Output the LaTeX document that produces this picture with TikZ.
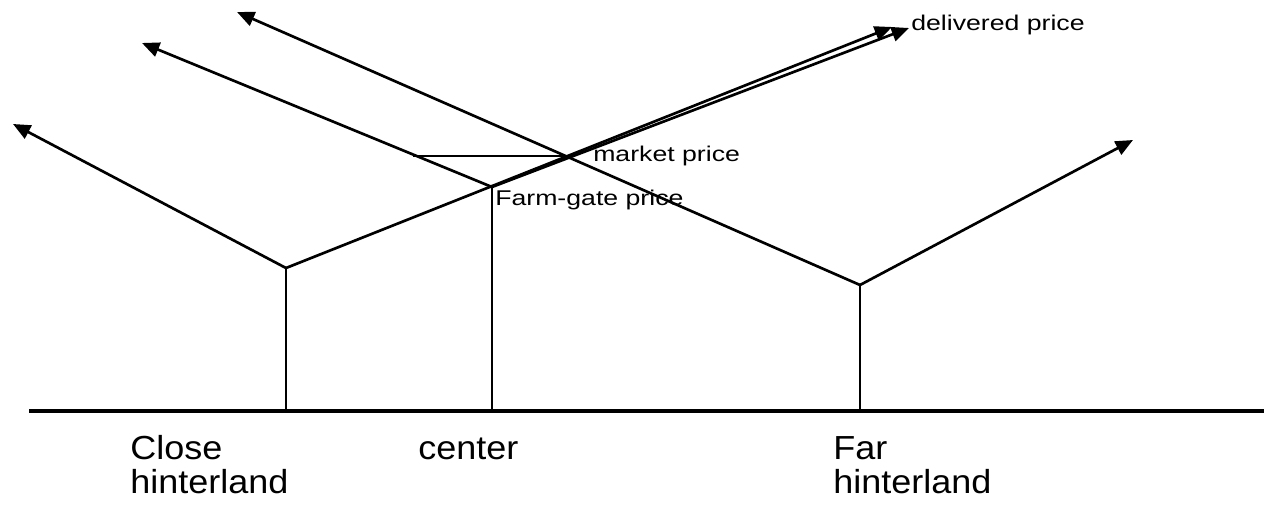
\documentclass[tikz,border=0pt]{standalone}
\usepackage{fontspec}
\setmainfont{Liberation Sans}
\usetikzlibrary{arrows.meta}
\begin{document}
\begin{tikzpicture}[x=0.75pt,y=-0.75pt,
  ln/.style={line width=2pt,line cap=butt,line join=miter},
  arr/.style={ln,-{Triangle[length=13pt,width=11pt]}},
  axis/.style={line width=3pt},
  bigtxt/.style={inner sep=0pt,anchor=base west,align=left,font=\fontsize{25}{25.5}\selectfont},
  smalltxt/.style={inner sep=0pt,anchor=base west,font=\fontsize{16}{18}\selectfont}]
\useasboundingbox (0,0) rectangle (1264,507);
% key points
\coordinate (C) at (286,268);
\coordinate (F) at (492,187);
\coordinate (M) at (570,156);
\coordinate (R) at (860,285);
\coordinate (Cb) at (286,411);
\coordinate (Fb) at (492,411);
\coordinate (Rb) at (860,411);
\coordinate (axL) at (29,411);
\coordinate (axR) at (1264,411);
\coordinate (tC) at (13,124);
\coordinate (tF) at (142,43);
\coordinate (tR) at (237,12);
\coordinate (tRR) at (1133,140);
\coordinate (tD1) at (892,27);
\coordinate (tD2) at (909,28);
\coordinate (hL) at (413,156);
% axis
\draw[axis] (axL) -- (axR);
% verticals
\draw[ln] (Cb) -- (C);
\draw[ln] (Fb) -- (F);
\draw[ln] (Rb) -- (R);
% price lines
\draw[arr] (C) -- (tC);
\draw[arr] (F) -- (tF);
\draw[arr] (R) -- (tR);
\draw[arr] (R) -- (tRR);
\draw[arr] (C) -- (tD1);
\draw[arr] (F) -- (tD2);
\draw[ln] (hL) -- (M);
% labels
\node[smalltxt] (dp) at (911,30) {\scalebox{1.25}[1]{delivered price}};
\node[smalltxt] (mp) at (593,161) {\scalebox{1.25}[1]{market price}};
\node[smalltxt] (fp) at (495,205) {\scalebox{1.25}[1]{Farm-gate price}};
\node[bigtxt] (close) at (130,493) {\scalebox{1.08}[1]{Close}\\\scalebox{1.08}[1]{hinterland}};
\node[bigtxt] (center) at (418,459) {\scalebox{1.08}[1]{center}};
\node[bigtxt] (far) at (833,493) {\scalebox{1.08}[1]{Far}\\\scalebox{1.08}[1]{hinterland}};
\end{tikzpicture}
\end{document}
